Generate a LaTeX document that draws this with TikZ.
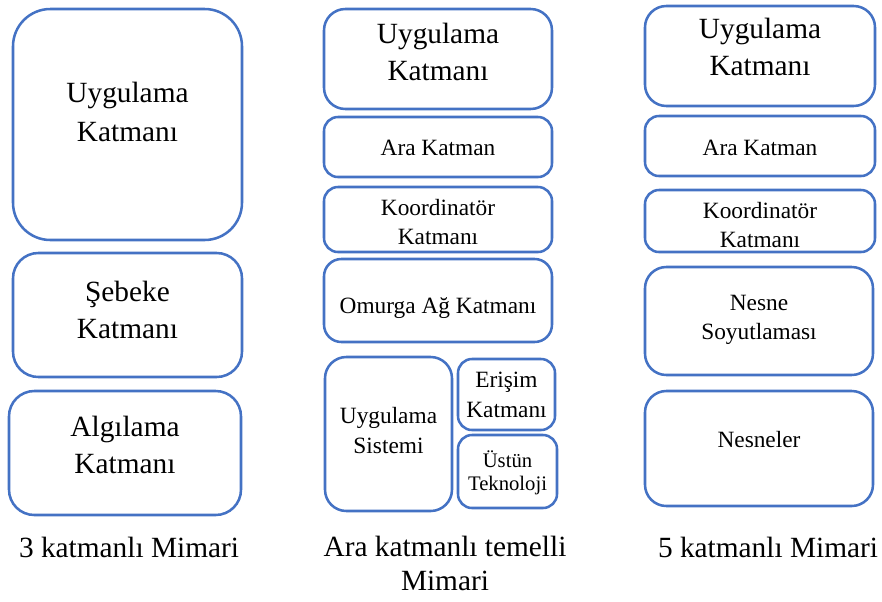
\documentclass[tikz,border=0pt]{standalone}
\usepackage{fontspec}
\setmainfont{Liberation Serif}
\usetikzlibrary{fit}
\definecolor{layerblue}{HTML}{4472C4}
\begin{document}
\begin{tikzpicture}[x=0.75pt,y=-0.75pt,
  layer/.style={draw=layerblue,line width=1.9pt,fill=white,inner sep=0pt,rounded corners=#1},
  layer/.default=10.5pt,
  big/.style={anchor=base,font=\fontsize{22}{26}\selectfont},
  small/.style={anchor=base,font=\fontsize{17.5}{21}\selectfont},
  tiny/.style={anchor=base,font=\fontsize{15.5}{18}\selectfont}]
\useasboundingbox (0,0) rectangle (882,601);

% three-layer stack
\node[layer=28pt,fit={(13,9) (242,240)}] (l1) {};
\node[layer=19pt,fit={(13,253) (242,377)}] (l2) {};
\node[layer=19pt,fit={(9,391) (241,515)}] (l3) {};
\node[big] (l1a) at (127.5,102) {Uygulama};
\node[big] (l1b) at (127.5,141) {Katmanı};
\node[big] (l2a) at (127.5,301) {Şebeke};
\node[big] (l2b) at (127.5,338) {Katmanı};
\node[big] (l3a) at (125,436) {Algılama};
\node[big] (l3b) at (125,473) {Katmanı};
\node[big] (cap1) at (129,557) {3 katmanlı Mimari};

% middleware-based stack
\node[layer=16pt,fit={(324,9) (552,109)}] (m1) {};
\node[layer=10.5pt,fit={(324,117) (552,177)}] (m2) {};
\node[layer=10.5pt,fit={(324,187) (552,252)}] (m3) {};
\node[layer=13pt,fit={(324,259) (552,342)}] (m4) {};
\node[layer=16pt,fit={(325,357) (452,511)}] (m5) {};
\node[layer=10.5pt,fit={(458,359) (555,430)}] (m6) {};
\node[layer=10.5pt,fit={(458,435) (557,508)}] (m7) {};
\node[big] (m1a) at (438,43) {Uygulama};
\node[big] (m1b) at (438,80) {Katmanı};
\node[small] (m2a) at (438,155) {Ara Katman};
\node[small] (m3a) at (438,215) {Koordinatör};
\node[small] (m3b) at (438,244) {Katmanı};
\node[small] (m4a) at (438,313) {Omurga Ağ Katmanı};
\node[small] (m5a) at (388.5,423) {Uygulama};
\node[small] (m5b) at (388.5,453) {Sistemi};
\node[small] (m6a) at (506.5,387) {Erişim};
\node[small] (m6b) at (506.5,417) {Katmanı};
\node[tiny] (m7a) at (507.5,467) {Üstün};
\node[tiny] (m7b) at (507.5,490) {Teknoloji};
\node[big] (cap2a) at (445,556) {Ara katmanlı temelli};
\node[big] (cap2b) at (445,590) {Mimari};

% five-layer stack
\node[layer=16pt,fit={(645,6) (875,106)}] (r1) {};
\node[layer=10.5pt,fit={(645,116) (875,176)}] (r2) {};
\node[layer=10.5pt,fit={(645,190) (875,252)}] (r3) {};
\node[layer=16pt,fit={(645,267) (873,375)}] (r4) {};
\node[layer=16pt,fit={(645,391) (873,506)}] (r5) {};
\node[big] (r1a) at (760,38) {Uygulama};
\node[big] (r1b) at (760,75) {Katmanı};
\node[small] (r2a) at (760,155) {Ara Katman};
\node[small] (r3a) at (760,218) {Koordinatör};
\node[small] (r3b) at (760,247) {Katmanı};
\node[small] (r4a) at (759,310) {Nesne};
\node[small] (r4b) at (759,339) {Soyutlaması};
\node[small] (r5a) at (759,447) {Nesneler};
\node[big] (cap3) at (768,557) {5 katmanlı Mimari};
\end{tikzpicture}
\end{document}
